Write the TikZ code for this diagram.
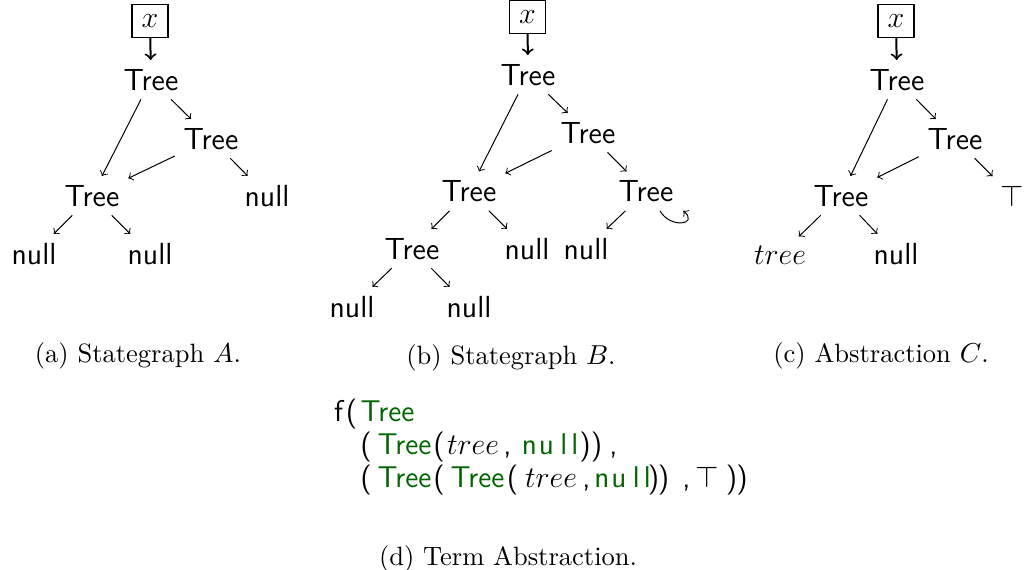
\documentclass[tikz,border=0pt]{standalone}
\usetikzlibrary{calc}
\definecolor{codegreen}{RGB}{0,100,0}
\newcommand{\gTree}{\textcolor{codegreen}{Tree}}
\newcommand{\gNull}{\textcolor{codegreen}{n\hspace{0.8pt}u\hspace{2.6pt}l\hspace{1.6pt}l}}
\begin{document}
\begin{tikzpicture}[x=0.4pt,y=-0.4pt,
  gn/.style={font=\sffamily\fontsize{12.2}{14}\selectfont, inner sep=3.4pt, anchor=base},
  var/.style={draw, line width=0.5pt, minimum width=14.4pt, minimum height=13.2pt, inner sep=0pt, font=\fontsize{11.5}{14}\selectfont},
  ed/.style={->, line width=0.4pt},
  ptr/.style={->, line width=0.8pt},
  captxt/.style={font=\fontsize{10.6}{12}\selectfont, anchor=base, inner sep=0pt},
  tok/.style={font=\sffamily\fontsize{12}{14}\selectfont, anchor=base, inner sep=0pt}]
\useasboundingbox (0,0) rectangle (1029,569);

% ---------- (a) ----------
\node[var] (ax) at (150,21) {$x$};
\node[gn] (a1) at (151,90) {Tree};
\node[gn] (a2) at (211,149) {Tree};
\node[gn] (a3) at (92,206) {Tree};
\node[gn] (a4) at (267,206) {null};
\node[gn] (a5) at (34,264) {null};
\node[gn] (a6) at (150,264) {null};
\draw[ptr] (ax) -- (a1);
\draw[ed] (a1) -- (a3);
\draw[ed] (a1) -- (a2);
\draw[ed] (a2) -- (a3);
\draw[ed] (a2) -- (a4);
\draw[ed] (a3) -- (a5);
\draw[ed] (a3) -- (a6);
\node[captxt] (capa) at (138,362) {(a) Stategraph $A$.};

% ---------- (b) ----------
\node[var] (bx) at (527.5,17) {$x$};
\node[gn] (b1) at (528,85) {Tree};
\node[gn] (b2) at (588,143) {Tree};
\node[gn] (b3) at (469,201.5) {Tree};
\node[gn] (b4) at (646,201.5) {Tree};
\node[gn] (b5) at (412,259) {Tree};
\node[gn] (b6) at (527,259) {null};
\node[gn] (b7) at (586,259) {null};
\node[gn] (b8) at (352,317) {null};
\node[gn] (b9) at (469,317) {null};
\draw[ptr] (bx) -- (b1);
\draw[ed] (b1) -- (b3);
\draw[ed] (b1) -- (b2);
\draw[ed] (b2) -- (b3);
\draw[ed] (b2) -- (b4);
\draw[ed] (b3) -- (b5);
\draw[ed] (b3) -- (b6);
\draw[ed] (b4) -- (b7);
\draw[ed] (b5) -- (b8);
\draw[ed] (b5) -- (b9);
\draw[ed] ($(b4.south)+(14,0)$) .. controls +(10,18) and +(16,14) .. ($(b4.south east)+(1,0)$);
\node[captxt] (capb) at (511,364) {(b) Stategraph $B$.};

% ---------- (c) ----------
\node[var] (cx) at (896,21) {$x$};
\node[gn] (c1) at (897,90) {Tree};
\node[gn] (c2) at (955,149) {Tree};
\node[gn] (c3) at (841,206) {Tree};
\node[gn] (c4) at (1012,206) {$\top$};
\node[gn] (c5) at (780,264) {$tree$};
\node[gn] (c6) at (896,264) {null};
\draw[ptr] (cx) -- (c1);
\draw[ed] (c1) -- (c3);
\draw[ed] (c1) -- (c2);
\draw[ed] (c2) -- (c3);
\draw[ed] (c2) -- (c4);
\draw[ed] (c3) -- (c5);
\draw[ed] (c3) -- (c6);
\node[captxt] (capc) at (881,362) {(c) Abstraction $C$.};

% ---------- (d) ----------
\foreach \x/\t [count=\i] in {338.5/f, 351.5/{(}, 387.5/{\gTree}}
  \node[tok] (l1t\i) at (\x,421) {\t};
\foreach \x/\t [count=\i] in {366/{(}, 404.5/{\gTree}, 439/{(}, 473/{$tree$}, 507.5/{,}, 550/{\gNull}, 585/{)}, 596.5/{)}, 613.5/{,}}
  \node[tok] (l2t\i) at (\x,454) {\t};
\foreach \x/\t [count=\i] in {366/{(}, 404.5/{\gTree}, 439/{(}, 477.5/{\gTree}, 512.5/{(}, 551/{$tree$}, 586.5/{,}, 622.5/{\gNull}, 653.5/{)}, 663.5/{)}, 686.5/{,}, 707.5/{$\top$}, 731.5/{)}, 742/{)}}
  \node[tok] (l3t\i) at (\x,487) {\t};
\node[captxt] (capd) at (508,565) {(d) Term Abstraction.};
\end{tikzpicture}
\end{document}
